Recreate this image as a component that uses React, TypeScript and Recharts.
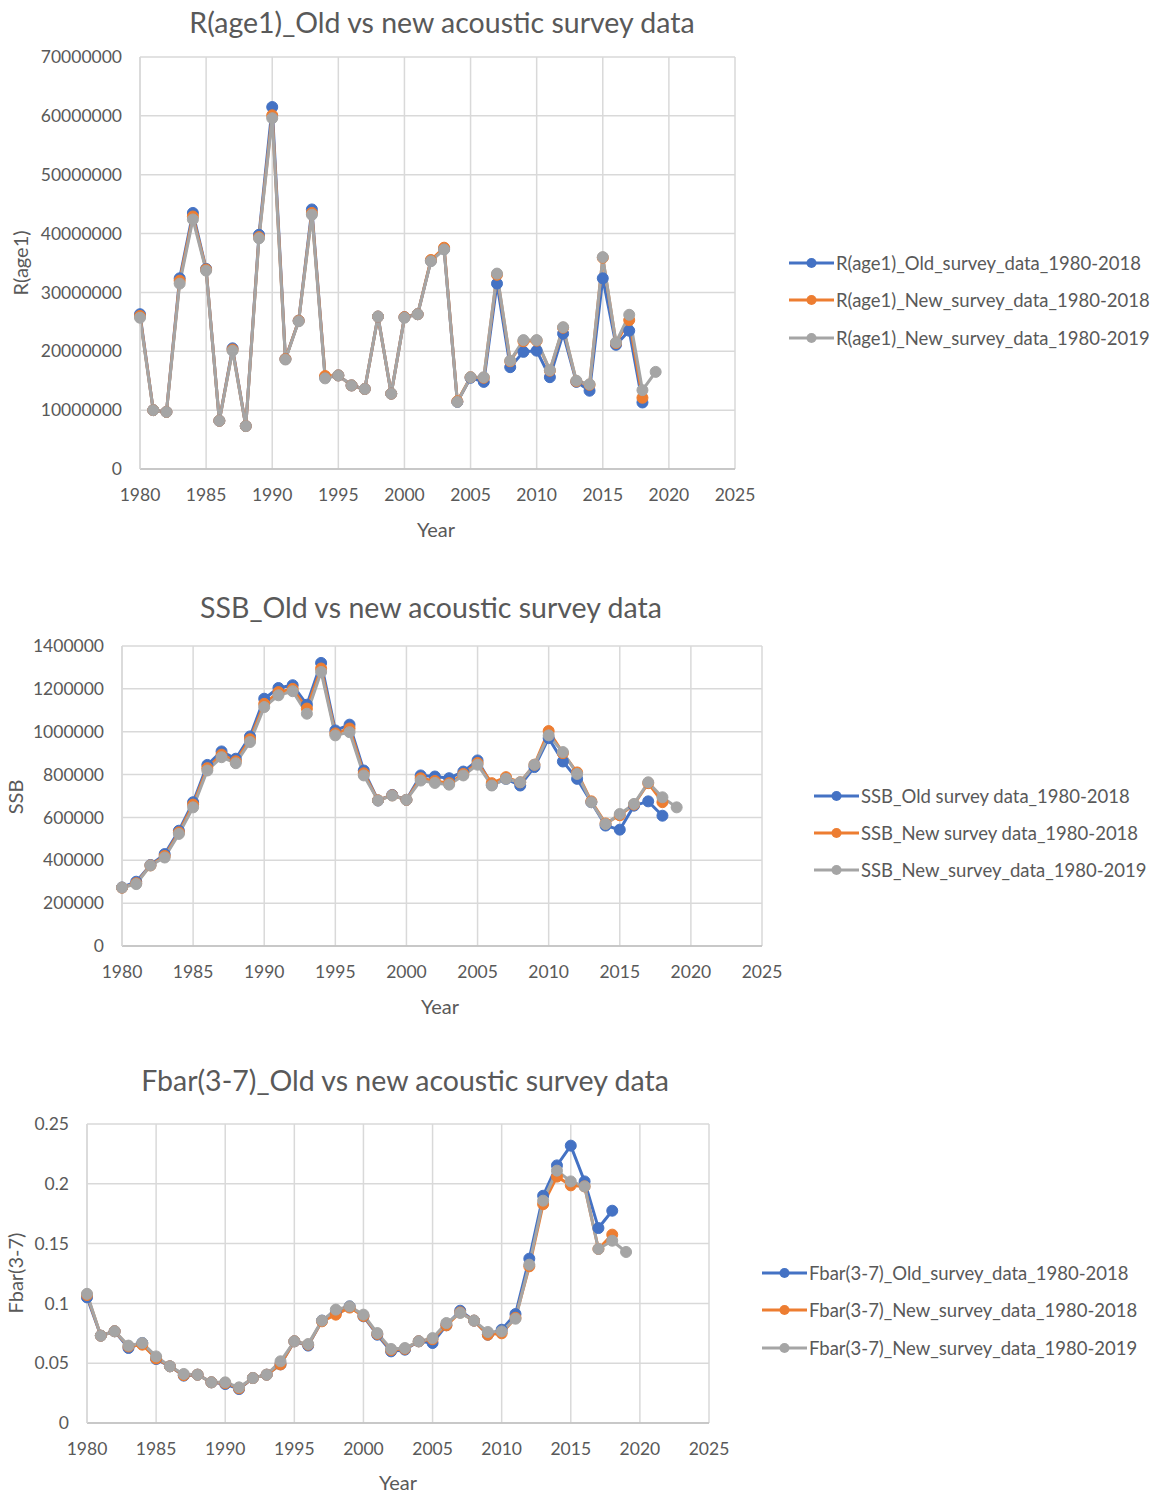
import React from 'react';
import { LineChart, Line, XAxis, YAxis, CartesianGrid } from 'recharts';

const years = [
  1980, 1981, 1982, 1983, 1984, 1985, 1986, 1987, 1988, 1989,
  1990, 1991, 1992, 1993, 1994, 1995, 1996, 1997, 1998, 1999,
  2000, 2001, 2002, 2003, 2004, 2005, 2006, 2007, 2008, 2009,
  2010, 2011, 2012, 2013, 2014, 2015, 2016, 2017, 2018, 2019,
];
const yearTicks = [1980, 1985, 1990, 1995, 2000, 2005, 2010, 2015, 2020, 2025];

// R(age1)
const rOld = [
  26300000, 10000000, 9700000, 32400000, 43500000, 34000000, 8200000, 20500000, 7300000, 39800000,
  61500000, 18700000, 25200000, 44100000, 15600000, 15900000, 14200000, 13600000, 25900000, 12800000,
  25800000, 26300000, 35400000, 37400000, 11400000, 15500000, 14800000, 31500000, 17300000, 19900000,
  20100000, 15600000, 23000000, 14800000, 13300000, 32400000, 21100000, 23500000, 11300000,
];
const rNew2018 = [
  26000000, 10000000, 9700000, 32000000, 42900000, 33900000, 8200000, 20300000, 7300000, 39400000,
  60100000, 18700000, 25200000, 43500000, 15800000, 15900000, 14200000, 13600000, 25900000, 12800000,
  25800000, 26300000, 35500000, 37600000, 11500000, 15600000, 15500000, 33000000, 18300000, 21700000,
  21800000, 16700000, 24000000, 14900000, 14300000, 35900000, 21400000, 25300000, 12100000,
];
const rNew2019 = [
  25700000, 10000000, 9700000, 31500000, 42400000, 33700000, 8200000, 20100000, 7300000, 39200000,
  59600000, 18600000, 25100000, 43200000, 15400000, 15900000, 14200000, 13600000, 25900000, 12800000,
  25700000, 26300000, 35300000, 37300000, 11400000, 15600000, 15600000, 33200000, 18400000, 21900000,
  21900000, 16800000, 24100000, 15000000, 14400000, 36000000, 21500000, 26200000, 13400000, 16500000,
];
const rTicks = [0, 10000000, 20000000, 30000000, 40000000, 50000000, 60000000, 70000000];

// SSB
const ssbOld = [
  273000, 300000, 378000, 429000, 538000, 671000, 845000, 908000, 874000, 978000,
  1154000, 1204000, 1217000, 1126000, 1321000, 1006000, 1033000, 819000, 679000, 705000,
  682000, 796000, 791000, 783000, 814000, 866000, 752000, 780000, 749000, 835000,
  970000, 861000, 780000, 671000, 562000, 543000, 655000, 675000, 608000,
];
const ssbNew2018 = [
  272000, 293000, 376000, 420000, 530000, 660000, 830000, 893000, 862000, 965000,
  1130000, 1185000, 1200000, 1108000, 1295000, 992000, 1015000, 806000, 680000, 703000,
  682000, 783000, 770000, 760000, 803000, 854000, 760000, 788000, 764000, 846000,
  1003000, 900000, 810000, 675000, 572000, 610000, 660000, 760000, 671000,
];
const ssbNew2019 = [
  273000, 289000, 376000, 413000, 523000, 647000, 819000, 881000, 853000, 952000,
  1115000, 1170000, 1189000, 1084000, 1279000, 983000, 998000, 796000, 679000, 702000,
  682000, 772000, 761000, 753000, 796000, 846000, 749000, 780000, 764000, 846000,
  983000, 905000, 803000, 671000, 569000, 616000, 663000, 764000, 694000, 647000,
];
const ssbTicks = [0, 200000, 400000, 600000, 800000, 1000000, 1200000, 1400000];

// Fbar(3-7)
const fOld = [
  0.105, 0.073, 0.0767, 0.0627, 0.0669, 0.0535, 0.0474, 0.0396, 0.0404, 0.034,
  0.0326, 0.0284, 0.0376, 0.0404, 0.049, 0.0683, 0.0647, 0.0856, 0.092, 0.0975,
  0.0892, 0.0738, 0.0599, 0.0613, 0.0683, 0.0669, 0.0817, 0.0939, 0.0856, 0.0738,
  0.078, 0.0911, 0.1374, 0.19, 0.2154, 0.2319, 0.202, 0.163, 0.1775,
];
const fNew2018 = [
  0.107, 0.073, 0.0767, 0.064, 0.0655, 0.054, 0.0474, 0.04, 0.0404, 0.034,
  0.0333, 0.029, 0.0376, 0.0404, 0.049, 0.0683, 0.0655, 0.085, 0.0906, 0.0965,
  0.0895, 0.0745, 0.061, 0.062, 0.0683, 0.07, 0.0817, 0.0925, 0.0856, 0.0738,
  0.075, 0.088, 0.131, 0.183, 0.206, 0.1987, 0.1978, 0.1455, 0.1575,
];
const fNew2019 = [
  0.108, 0.073, 0.0767, 0.0647, 0.0669, 0.0557, 0.0474, 0.041, 0.0404, 0.034,
  0.034, 0.0298, 0.0376, 0.0404, 0.0516, 0.0683, 0.066, 0.0856, 0.0948, 0.0975,
  0.0906, 0.0752, 0.0619, 0.0627, 0.0683, 0.071, 0.0836, 0.092, 0.0856, 0.0761,
  0.0766, 0.0872, 0.1324, 0.1859, 0.211, 0.202, 0.1978, 0.1455, 0.1524, 0.143,
];
const fTicks = [0, 0.05, 0.1, 0.15, 0.2, 0.25];

const BLUE = '#4472C4';
const ORANGE = '#ED7D31';
const GRAY = '#A5A5A5';
const TEXT = '#595959';
const GRID = '#d9d9d9';
const FONT = 'Lato, "Open Sans", sans-serif';

const buildRows = (a: number[], b: number[], c: number[]) =>
  years.map((year, i) => ({ year, old: a[i], new18: b[i], new19: c[i] }));

const Legend = ({ x, ys, names }: { x: number; ys: number[]; names: string[] }) => {
  const colors = [BLUE, ORANGE, GRAY];
  return (
    <>
      {names.map((n, i) => (
        <div key={n} style={{
          position: 'absolute', left: x, top: ys[i] - 12, height: 24,
          display: 'flex', alignItems: 'center', whiteSpace: 'nowrap',
          fontSize: 18.5, color: TEXT, fontFamily: FONT,
        }}>
          <svg width={47} height={24} style={{ display: 'block' }}>
            <line x1={0} y1={12} x2={45} y2={12} stroke={colors[i]} strokeWidth={3} />
            <circle cx={22.5} cy={12} r={5} fill={colors[i]} />
          </svg>
          <span>{n}</span>
        </div>
      ))}
    </>
  );
};

const Text = ({ x, y, size, children, rotate }: any) => (
  <div style={{
    position: 'absolute', left: x, top: y, whiteSpace: 'nowrap',
    transform: `translate(-50%, -50%)${rotate ? ' rotate(-90deg)' : ''}`,
    fontSize: size, color: TEXT, fontFamily: FONT,
  }}>
    {children}
  </div>
);

const Panel = ({ top, height, rows, plot, yAxisWidth, yTicks }: any) => {
  const dotStyle = (c: string) => ({ r: 5.5, fill: c, stroke: c, strokeWidth: 1 });
  return (
    <div style={{ position: 'absolute', left: 0, top, width: 1165, height }}>
      <LineChart
        width={1165}
        height={height}
        data={rows}
        margin={{ top: plot.top, right: 1165 - plot.right, left: plot.left - yAxisWidth, bottom: height - plot.bottom - 40 }}
      >
        <CartesianGrid stroke={GRID} strokeWidth={1.5} />
        <XAxis
          dataKey="year"
          type="number"
          domain={[1980, 2025]}
          ticks={yearTicks}
          height={40}
          tickLine={false}
          axisLine={{ stroke: '#bfbfbf', strokeWidth: 1.5 }}
          tick={{ fill: TEXT, fontSize: 17.5, fontFamily: FONT }}
          tickMargin={14}
        />
        <YAxis
          type="number"
          domain={[yTicks[0], yTicks[yTicks.length - 1]]}
          ticks={yTicks}
          width={yAxisWidth}
          tickLine={false}
          axisLine={{ stroke: GRID, strokeWidth: 1.5 }}
          tick={{ fill: TEXT, fontSize: 17.5, fontFamily: FONT }}
          tickMargin={12}
          interval={0}
        />
        <Line dataKey="old" stroke={BLUE} strokeWidth={3} dot={dotStyle(BLUE)} isAnimationActive={false} />
        <Line dataKey="new18" stroke={ORANGE} strokeWidth={3} dot={dotStyle(ORANGE)} isAnimationActive={false} />
        <Line dataKey="new19" stroke={GRAY} strokeWidth={3} dot={dotStyle(GRAY)} isAnimationActive={false} />
      </LineChart>
    </div>
  );
};

export default function App() {
  const rRows = buildRows(rOld, rNew2018, rNew2019);
  const ssbRows = buildRows(ssbOld, ssbNew2018, ssbNew2019);
  const fRows = buildRows(fOld, fNew2018, fNew2019);

  return (
    <div style={{ position: 'absolute', left: 0, top: 0, width: 1165, height: 1493, background: '#fff', fontFamily: FONT }}>
      <Panel top={0} height={560} rows={rRows} plot={{ left: 140, right: 735, top: 57, bottom: 469 }} yAxisWidth={100} yTicks={rTicks} />
      <Text x={442} y={22} size={28.5}>R(age1)_Old vs new acoustic survey data</Text>
      <Text x={20} y={263} size={20}>
        <div style={{ transform: 'rotate(-90deg)' }}>R(age1)</div>
      </Text>
      <Text x={436} y={529} size={20}>Year</Text>
      <Legend x={789} ys={[263, 300, 338]} names={[
        'R(age1)_Old_survey_data_1980-2018',
        'R(age1)_New_survey_data_1980-2018',
        'R(age1)_New_survey_data_1980-2019',
      ]} />

      <Panel top={580} height={450} rows={ssbRows} plot={{ left: 122, right: 762, top: 66, bottom: 366 }} yAxisWidth={100} yTicks={ssbTicks} />
      <Text x={431} y={607} size={28.5}>SSB_Old vs new acoustic survey data</Text>
      <Text x={15} y={797} size={20}>
        <div style={{ transform: 'rotate(-90deg)' }}>SSB</div>
      </Text>
      <Text x={440} y={1006} size={20}>Year</Text>
      <Legend x={814} ys={[796, 833, 870]} names={[
        'SSB_Old survey data_1980-2018',
        'SSB_New survey data_1980-2018',
        'SSB_New_survey_data_1980-2019',
      ]} />

      <Panel top={1050} height={443} rows={fRows} plot={{ left: 87, right: 709, top: 74, bottom: 373 }} yAxisWidth={80} yTicks={fTicks} />
      <Text x={405} y={1080} size={28.5}>Fbar(3-7)_Old vs new acoustic survey data</Text>
      <Text x={15} y={1273} size={20}>
        <div style={{ transform: 'rotate(-90deg)' }}>Fbar(3-7)</div>
      </Text>
      <Text x={398} y={1482} size={20}>Year</Text>
      <Legend x={762} ys={[1273, 1310, 1348]} names={[
        'Fbar(3-7)_Old_survey_data_1980-2018',
        'Fbar(3-7)_New_survey_data_1980-2018',
        'Fbar(3-7)_New_survey_data_1980-2019',
      ]} />
    </div>
  );
}
